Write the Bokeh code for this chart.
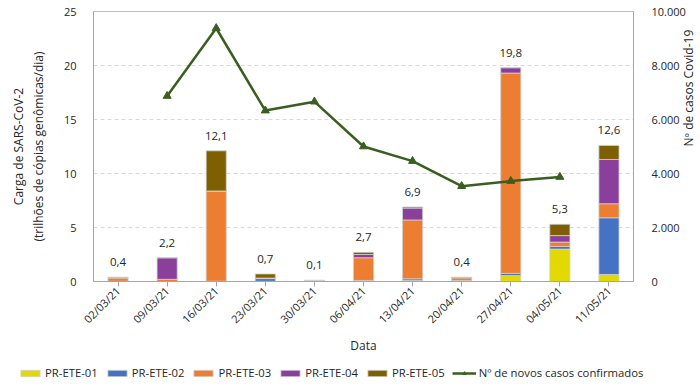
import math
from bokeh.plotting import figure
from bokeh.models import (ColumnDataSource, FactorRange, Range1d, LinearAxis, FixedTicker,
                          CustomJSTickFormatter, Legend, LegendItem)
from bokeh.core.properties import value
from bokeh.embed import file_html
from bokeh.resources import INLINE

dates = ["02/03/21", "09/03/21", "16/03/21", "23/03/21", "30/03/21", "06/04/21",
         "13/04/21", "20/04/21", "27/04/21", "04/05/21", "11/05/21"]
ete01 = [0.00, 0.00, 0.00, 0.02, 0.00, 0.00, 0.10, 0.00, 0.55, 3.00, 0.65]
ete02 = [0.02, 0.00, 0.03, 0.25, 0.00, 0.10, 0.15, 0.10, 0.20, 0.25, 5.25]
ete03 = [0.32, 0.20, 8.35, 0.05, 0.05, 2.10, 5.45, 0.25, 18.55, 0.40, 1.30]
ete04 = [0.00, 2.00, 0.00, 0.00, 0.05, 0.30, 1.10, 0.00, 0.50, 0.60, 4.10]
ete05 = [0.06, 0.00, 3.72, 0.38, 0.00, 0.20, 0.10, 0.05, 0.00, 1.05, 1.30]
totals = [0.4, 2.2, 12.1, 0.7, 0.1, 2.7, 6.9, 0.4, 19.8, 5.3, 12.6]
total_labels = ["0,4", "2,2", "12,1", "0,7", "0,1", "2,7", "6,9", "0,4", "19,8", "5,3", "12,6"]
case_dates = ["09/03/21", "16/03/21", "23/03/21", "30/03/21", "06/04/21",
              "13/04/21", "20/04/21", "27/04/21", "04/05/21"]
cases = [6870, 9380, 6330, 6660, 5000, 4460, 3530, 3720, 3870]

series = ["PR-ETE-01", "PR-ETE-02", "PR-ETE-03", "PR-ETE-04", "PR-ETE-05"]
line_label = "Nº de novos casos confirmados"
colors = ["#E2D900", "#4472C4", "#ED7D31", "#8A3F9C", "#7F6000"]
line_color = "#3A5E1F"
FONT = "Open Sans"
TXT = "#262626"

src = ColumnDataSource(dict(x=dates, e1=ete01, e2=ete02, e3=ete03, e4=ete04, e5=ete05,
                            tot=totals, lab=total_labels))
lsrc = ColumnDataSource(dict(x=case_dates, y=cases))

p = figure(frame_width=540, frame_height=270, x_range=FactorRange(factors=dates),
           y_range=Range1d(0, 25), output_backend="svg", toolbar_location=None,
           min_border_left=93, min_border_right=67, min_border_top=11, min_border_bottom=72)
p.extra_y_ranges = {"cases": Range1d(0, 10000)}

bars = p.vbar_stack(["e1", "e2", "e3", "e4", "e5"], x="x", width=0.41, source=src,
                    color=colors, line_color="#D0D0D0", line_width=0.8)

p.text(x="x", y="tot", text="lab", source=src, text_align="center", text_baseline="middle",
       y_offset=-15, text_font=value(FONT), text_font_size="11.5px", text_color=TXT)

lr = p.line(x="x", y="y", source=lsrc, y_range_name="cases", line_color=line_color, line_width=2.5)
sr = p.scatter(x="x", y="y", source=lsrc, y_range_name="cases", marker="triangle", size=8,
               fill_color=line_color, line_color=line_color)

# axes
p.xaxis.axis_label = "Data"
p.xaxis.major_label_orientation = math.pi / 4
p.yaxis.axis_label = "Carga de SARS-CoV-2\n(trilhões de cópias genômicas/dia)"
p.yaxis.ticker = FixedTicker(ticks=[0, 5, 10, 15, 20, 25])

ry = LinearAxis(y_range_name="cases", axis_label="Nº de casos Covid-19",
                ticker=FixedTicker(ticks=[0, 2000, 4000, 6000, 8000, 10000]),
                formatter=CustomJSTickFormatter(code=r"return tick.toString().replace(/\B(?=(\d{3})+(?!\d))/g, '.');"))
p.add_layout(ry, "right")

for ax in [p.xaxis[0], p.yaxis[0], ry]:
    ax.axis_line_color = "#A6A6A6"
    ax.major_label_text_font = FONT
    ax.major_label_text_font_size = "11px"
    ax.major_label_text_color = TXT
    ax.axis_label_text_font = FONT
    ax.axis_label_text_font_size = "12px"
    ax.axis_label_text_font_style = "normal"
    ax.axis_label_text_color = TXT
    ax.minor_tick_line_color = None

p.xaxis.major_tick_line_color = "#A6A6A6"
p.xaxis.major_tick_out = 5
p.xaxis.major_tick_in = 0
p.xaxis.axis_label_standoff = 3
p.xaxis.major_label_standoff = 2
p.yaxis.major_tick_line_color = None
p.yaxis.major_label_standoff = 11
p.yaxis.axis_label_standoff = 14
ry.major_tick_line_color = None
ry.major_label_standoff = 12
ry.axis_label_standoff = 0
ry.axis_label_orientation = math.pi / 2

p.xgrid.grid_line_color = None
p.ygrid.grid_line_color = "#D9D9D9"
p.ygrid.grid_line_dash = "4 3"
p.outline_line_color = "#BFBFBF"

# legend strip below the chart (dummy glyphs lie outside the strip's ranges)
lf = figure(width=700, height=31, x_range=Range1d(0, 1), y_range=Range1d(0, 1),
            output_backend="svg", toolbar_location=None, min_border=0,
            x_axis_location=None, y_axis_location=None)
lf.grid.grid_line_color = None
lf.outline_line_color = None
off = ColumnDataSource(dict(x=[-5, -6], top=[-5, -6], y=[-5, -6]))
leg_renderers = [lf.vbar(x="x", top="top", bottom=-9, width=0.1, source=off, fill_color=c,
                         line_color="#D0D0D0", line_width=0.8) for c in colors]
le_line = lf.line(x="x", y="y", source=off, line_color=line_color, line_width=2.5)
le_mark = lf.scatter(x="x", y="y", source=off, marker="triangle", size=7,
                     fill_color=line_color, line_color=line_color)
items = [LegendItem(label=s, renderers=[r]) for s, r in zip(series, leg_renderers)]
items.append(LegendItem(label=line_label, renderers=[le_line, le_mark]))
legend = Legend(items=items, orientation="horizontal", location=(18, 8),
                label_text_font=FONT, label_text_font_size="11.3px", label_text_color=TXT,
                glyph_width=24, glyph_height=8, label_standoff=3, spacing=7,
                padding=0, margin=0, border_line_color=None, background_fill_alpha=0)
lf.add_layout(legend, "center")

open("out.html", "w").write(file_html([p, lf], INLINE))
